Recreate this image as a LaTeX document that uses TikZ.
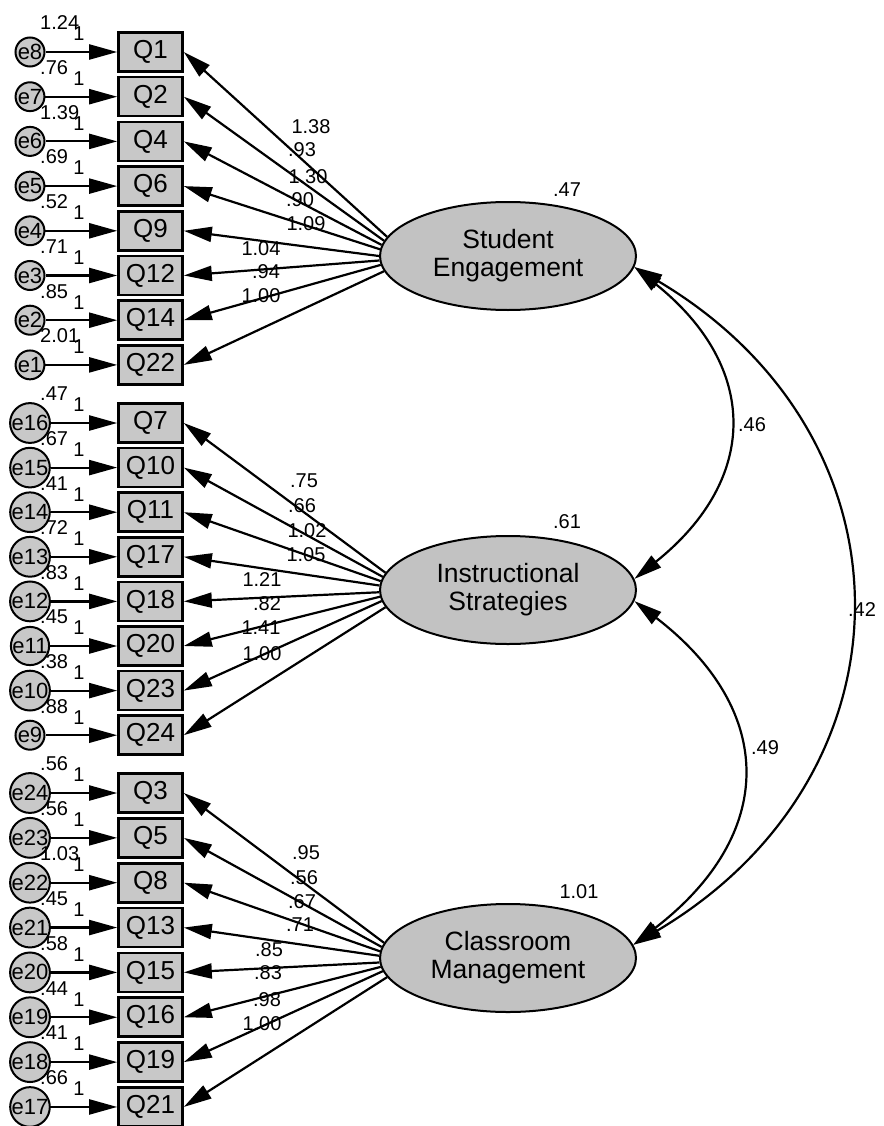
\documentclass[tikz,border=0pt]{standalone}
\usepackage{fontspec}
\setmainfont{Liberation Sans}
\usetikzlibrary{arrows.meta,shapes.geometric}
\definecolor{boxgray}{RGB}{200,200,200}
\definecolor{latgray}{RGB}{194,194,194}

\begin{document}
\begin{tikzpicture}[x=1pt,y=-1pt,
  obs/.style={draw, line width=2.6pt, fill=boxgray, minimum width=64pt, minimum height=39pt,
    inner sep=0pt, font=\fontsize{26}{26}\selectfont},
  err/.style={circle, draw, line width=2pt, fill=boxgray, minimum size=24pt, inner sep=0pt,
    font=\fontsize{22}{22}\selectfont},
  lat/.style={ellipse, draw, line width=2pt, fill=latgray, minimum width=256pt,
    minimum height=108pt, inner sep=0pt, align=center, font=\fontsize{26.5}{28}\selectfont},
  regpath/.style={line width=2.2pt, -{Triangle[length=28pt,width=15pt]}},
  covpath/.style={line width=2.2pt, {Triangle[length=28pt,width=15pt]}-{Triangle[length=28pt,width=15pt]}},
  num/.style={font=\fontsize{20}{20}\selectfont, inner sep=0pt},
]
\useasboundingbox (0,0) rectangle (883,1126);

% latent factors
\node[lat] (se) at (508,256) {Student\\Engagement};
\node[lat] (is) at (508,590) {Instructional\\Strategies};
\node[lat] (cm) at (508,958) {Classroom\\Management};
\node[num] at (567,190) {.47};
\node[num] at (567,522) {.61};
\node[num] at (579,892) {1.01};

% indicators, error terms and loadings: item/error/variance/loading/label x/label y
\foreach \q/\e/\v/\l/\lx/\ly [count=\i from 0] in {
  1/8/1.24/1.38/311/127, 2/7/.76/.93/302/150, 4/6/1.39/1.30/308/177, 6/5/.69/.90/300/200,
  9/4/.52/1.09/306/224, 12/3/.71/1.04/261/249, 14/2/.85/.94/266/272, 22/1/2.01/1.00/261/296}{
  \node[obs] (q\q) at (150.5,{52+44.7*\i}) {Q\q};
  \node[err] (e\e) at (30,{52+44.7*\i}) {e\e};
  \draw[regpath] (e\e) -- (q\q);
  \node[num, anchor=west] at (40,{52+44.7*\i-29}) {\v};
  \node[num] at (79,{52+44.7*\i-18}) {1};
  \draw[regpath] (se.{171+2.3*\i}) -- (q\q.east);
  \node[num] at (\lx,\ly) {\l};
}
\foreach \q/\e/\v/\l/\lx/\ly [count=\i from 0] in {
  7/16/.47/.75/304/481, 10/15/.67/.66/302/506, 11/14/.41/1.02/307/531, 17/13/.72/1.05/306/555,
  18/12/.83/1.21/262/580, 20/11/.45/.82/267/604, 23/10/.38/1.41/261/628, 24/9/.88/1.00/262/654}{
  \node[obs] (q\q) at (150.5,{423+44.6*\i}) {Q\q};
  \node[err] (e\e) at (30,{423+44.6*\i}) {e\e};
  \draw[regpath] (e\e) -- (q\q);
  \node[num, anchor=west] at (40,{423+44.6*\i-29}) {\v};
  \node[num] at (79,{423+44.6*\i-18}) {1};
  \draw[regpath] (is.{172+2.3*\i}) -- (q\q.east);
  \node[num] at (\lx,\ly) {\l};
}
\foreach \q/\e/\v/\l/\lx/\ly [count=\i from 0] in {
  3/24/.56/.95/306/853, 5/23/.56/.56/304/878, 8/22/1.03/.67/302/902, 13/21/.45/.71/300/925,
  15/20/.58/.85/269/950, 16/19/.44/.83/268/973, 19/18/.41/.98/267/1000, 21/17/.66/1.00/262/1024}{
  \node[obs] (q\q) at (150.5,{793+44.85*\i}) {Q\q};
  \node[err] (e\e) at (30,{793+44.85*\i}) {e\e};
  \draw[regpath] (e\e) -- (q\q);
  \node[num, anchor=west] at (40,{793+44.85*\i-29}) {\v};
  \node[num] at (79,{793+44.85*\i-18}) {1};
  \draw[regpath] (cm.{173+2.3*\i}) -- (q\q.east);
  \node[num] at (\lx,\ly) {\l};
}

% factor covariances
\draw[covpath] (se.-5) .. controls +(125,100) and +(125,-100) .. (is.5);
\draw[covpath] (is.-5) .. controls +(143,110) and +(143,-110) .. (cm.6);
\draw[covpath] (se.-5) .. controls +(287,170) and +(287,-170) .. (cm.6);
\node[num] at (752,425) {.46};
\node[num] at (765,748) {.49};
\node[num] at (862,610) {.42};
\end{tikzpicture}
\end{document}
